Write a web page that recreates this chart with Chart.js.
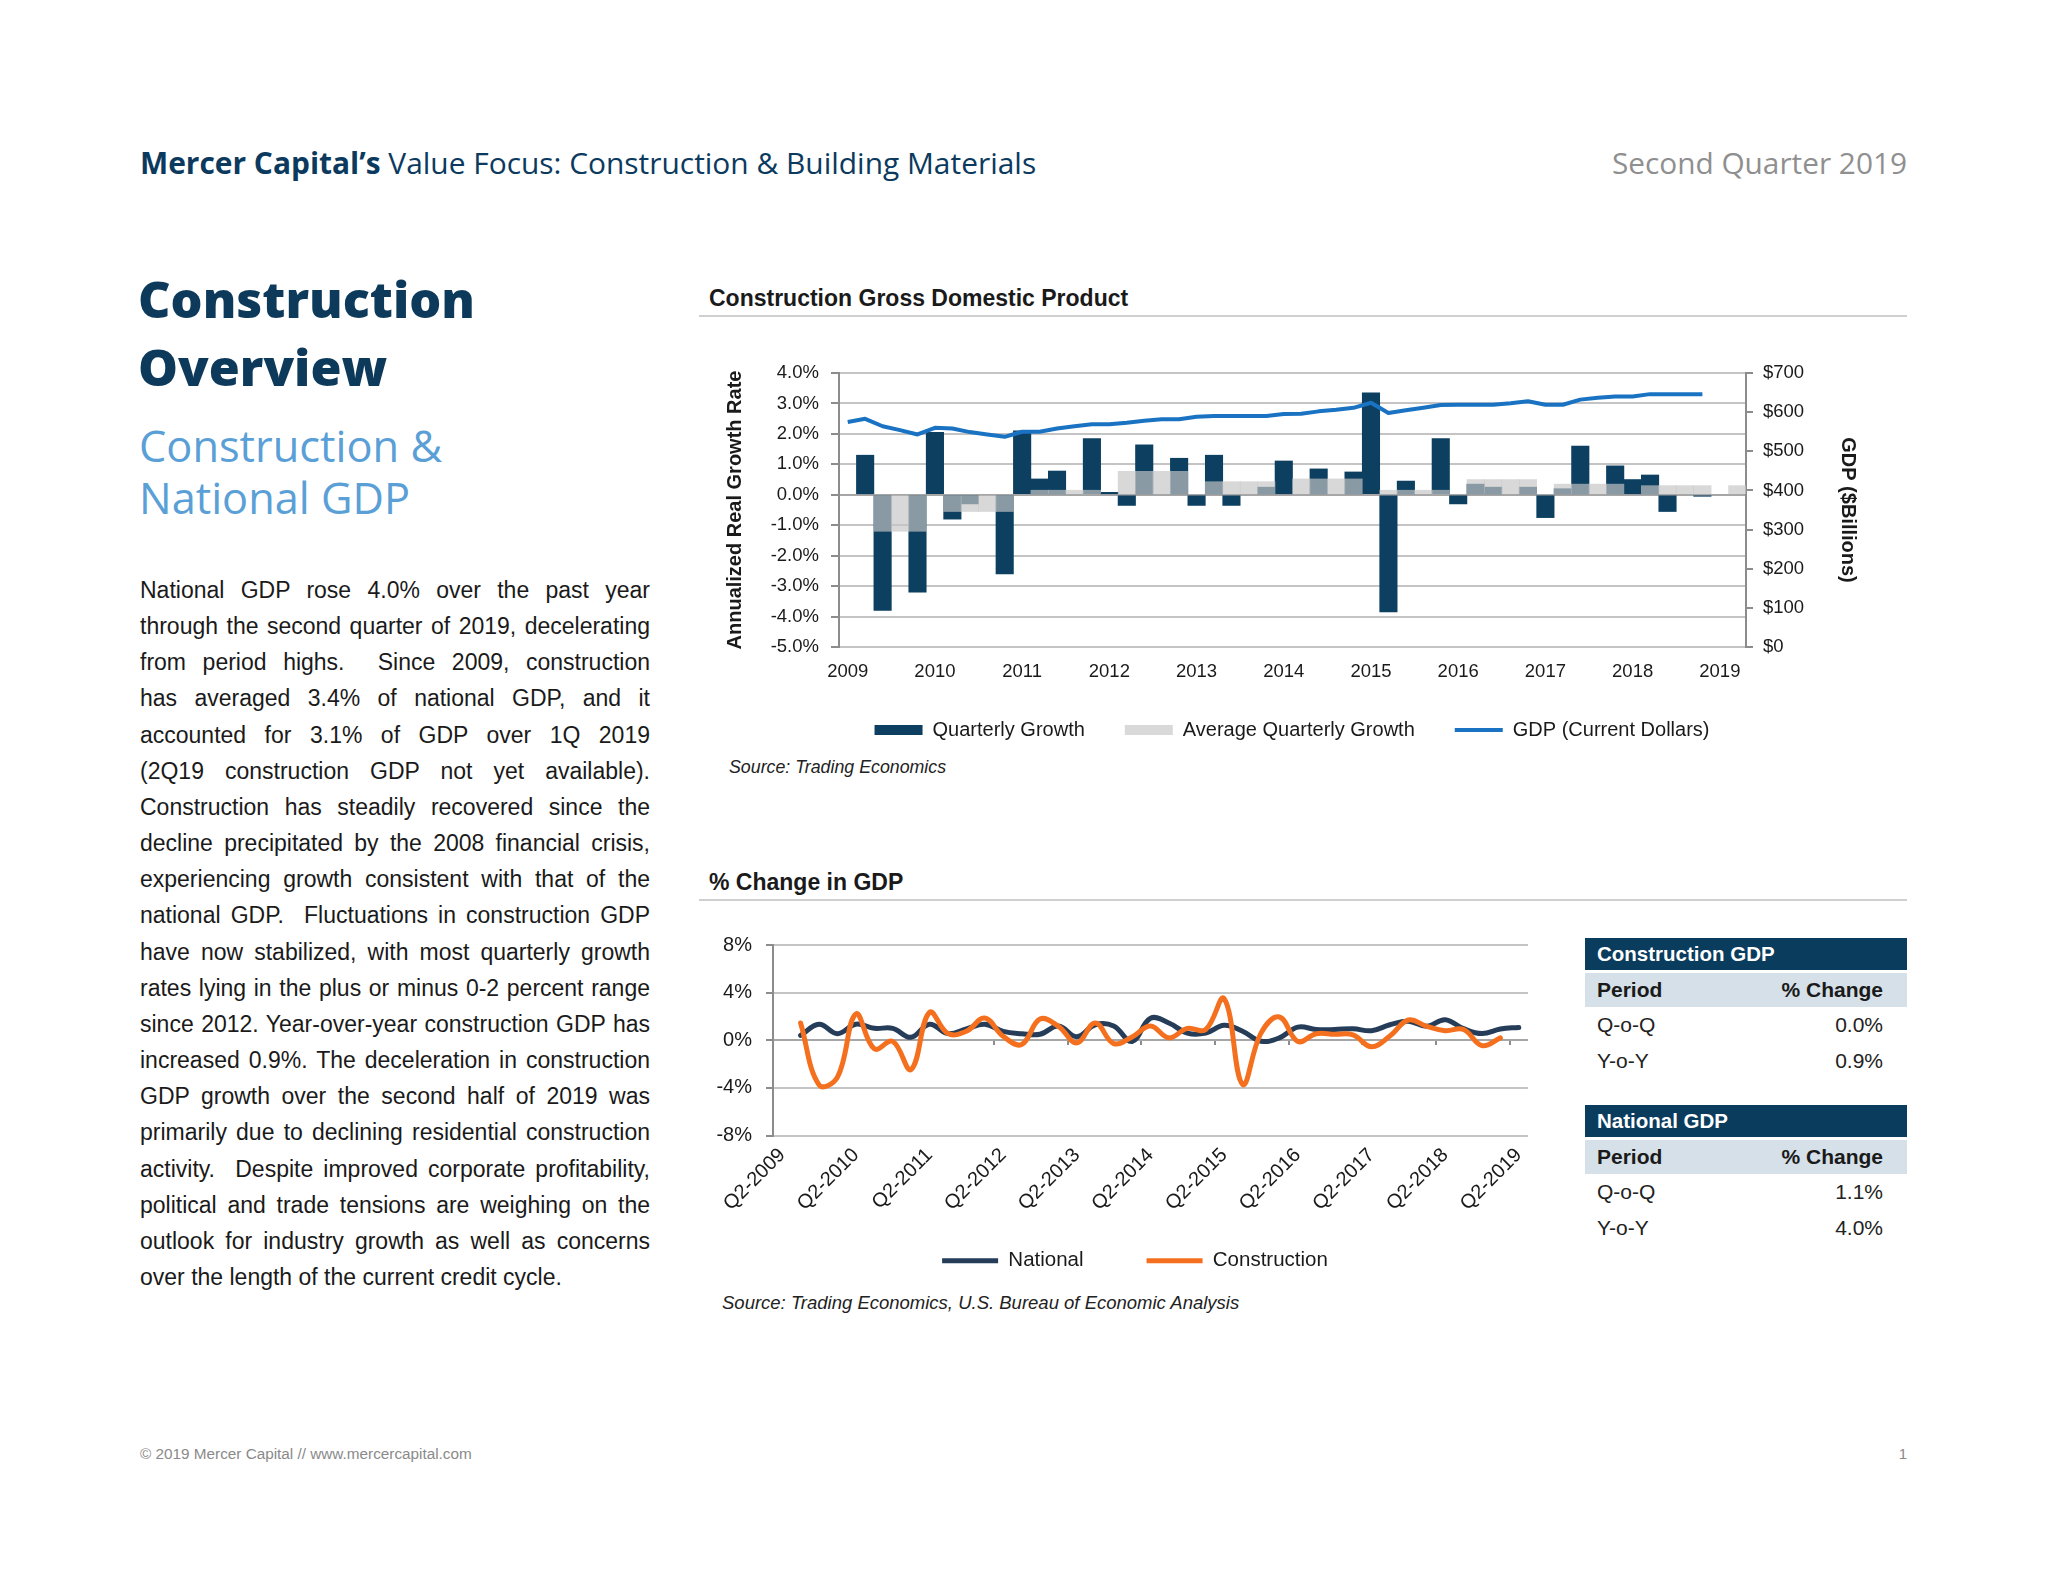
<!DOCTYPE html>
<html>
<head>
<meta charset="utf-8">
<title>Construction Overview</title>
<script src="https://cdn.jsdelivr.net/npm/chart.js@4.4.1/dist/chart.umd.min.js"></script>
<style>
  html, body { margin: 0; padding: 0; background: #fff; }
  body { width: 2048px; height: 1582px; position: relative; overflow: hidden;
         font-family: 'Liberation Sans', Arial, sans-serif; color: #1a1a1a; }
  .abs { position: absolute; white-space: nowrap; }
  #header { left: 140px; top: 147px; line-height: 32px; font-family: 'Open Sans'; font-size: 24px; color: #0b3a5e; }
  #header b { font-weight: 700; }
  #quarter { right: 141px; top: 147px; line-height: 32px; font-family: 'Open Sans'; font-size: 24px; color: #8f8f8f; }
  #heading { left: 138px; top: 265px; font-family: 'Open Sans'; font-weight: 800; font-size: 54px; line-height: 68px; color: #0d3a5a; }
  #subheading { left: 139px; top: 420px; font-family: 'Open Sans'; font-size: 43px; line-height: 52px; color: #5a9fd6; }
  #body { position: absolute; left: 140px; top: 572px; width: 510px; font-size: 23px; line-height: 36.15px; color: #1a1a1a; }
  #body div { text-align: justify; text-align-last: justify; white-space: nowrap; }
  #body div.last { text-align-last: left; }
  .ctitle { font-weight: bold; font-size: 23px; line-height: 30px; color: #1a1a1a; }
  .rule { position: absolute; height: 2px; background: #cfcfcf; }
  .source { font-style: italic; line-height: 24px; color: #222; }
  .tbl { position: absolute; width: 322px; font-size: 21px; }
  .tbl .th { background: #0a3c5e; color: #fff; font-weight: bold; font-size: 20.5px; height: 32px; line-height: 32px; padding-left: 12px; }
  .tbl .sub { background: #d5e0e8; font-weight: bold; height: 34px; line-height: 34px; margin-top: 3px;
              display: flex; justify-content: space-between; padding: 0 24px 0 12px; color: #1a1a1a; }
  .tbl .row { height: 36px; line-height: 36px; display: flex; justify-content: space-between; padding: 0 24px 0 12px; color: #222; }
  #footer { left: 140px; top: 1444px; font-size: 15.3px; line-height: 20px; color: #8a8a8a; }
  #page { right: 141px; top: 1444px; font-size: 15px; line-height: 20px; color: #8a8a8a; }
  canvas { position: absolute; }
</style>
</head>
<body>

<div id="header" class="abs"><b>Mercer Capital’s</b> Value Focus: Construction &amp; Building Materials</div>
<div id="quarter" class="abs">Second Quarter 2019</div>

<div id="heading" class="abs"><span id="headFirst">Construction</span><br>Overview</div>
<div id="subheading" class="abs"><span id="subFirst">Construction &amp;</span><br>National GDP</div>

<div id="body">
  <div>National GDP rose 4.0% over the past year</div>
  <div>through the second quarter of 2019, decelerating</div>
  <div>from period highs.&nbsp; Since 2009, construction</div>
  <div>has averaged 3.4% of national GDP, and it</div>
  <div>accounted for 3.1% of GDP over 1Q 2019</div>
  <div>(2Q19 construction GDP not yet available).</div>
  <div>Construction has steadily recovered since the</div>
  <div>decline precipitated by the 2008 financial crisis,</div>
  <div>experiencing growth consistent with that of the</div>
  <div>national GDP.&nbsp; Fluctuations in construction GDP</div>
  <div>have now stabilized, with most quarterly growth</div>
  <div>rates lying in the plus or minus 0-2 percent range</div>
  <div>since 2012. Year-over-year construction GDP has</div>
  <div>increased 0.9%. The deceleration in construction</div>
  <div>GDP growth over the second half of 2019 was</div>
  <div>primarily due to declining residential construction</div>
  <div>activity.&nbsp; Despite improved corporate profitability,</div>
  <div>political and trade tensions are weighing on the</div>
  <div>outlook for industry growth as well as concerns</div>
  <div class="last">over the length of the current credit cycle.</div>
</div>

<div class="abs ctitle" style="left:709px; top:283px;">Construction Gross Domestic Product</div>
<div class="rule" style="left:699px; top:315px; width:1208px;"></div>
<canvas id="gdpChart" width="1216" height="410" style="left:684px; top:340px;"></canvas>
<div class="abs source" style="left:729px; top:755px; font-size:17.8px;">Source: Trading Economics</div>

<div class="abs ctitle" style="left:709px; top:867px;">% Change in GDP</div>
<div class="rule" style="left:699px; top:899px; width:1208px;"></div>
<canvas id="changeChart" width="870" height="381" style="left:700px; top:900px;"></canvas>
<div class="abs source" style="left:722px; top:1291px; font-size:18.5px;">Source: Trading Economics, U.S. Bureau of Economic Analysis</div>

<div class="tbl" style="left:1585px; top:938px;">
  <div class="th">Construction GDP</div>
  <div class="sub"><span>Period</span><span>% Change</span></div>
  <div class="row"><span>Q-o-Q</span><span>0.0%</span></div>
  <div class="row"><span>Y-o-Y</span><span>0.9%</span></div>
</div>

<div class="tbl" style="left:1585px; top:1105px;">
  <div class="th">National GDP</div>
  <div class="sub"><span>Period</span><span>% Change</span></div>
  <div class="row"><span>Q-o-Q</span><span>1.1%</span></div>
  <div class="row"><span>Y-o-Y</span><span>4.0%</span></div>
</div>

<div id="footer" class="abs">© 2019 Mercer Capital // www.mercercapital.com</div>
<div id="page" class="abs">1</div>

<script>
// ---- Construction GDP chart data (one slot per bar position) ----
const slotLabels = [
  '2009', '', '', '', '', '2010', '', '', '', '',
  '2011', '', '', '', '', '2012', '', '', '', '',
  '2013', '', '', '', '', '2014', '', '', '', '',
  '2015', '', '', '', '', '2016', '', '', '', '',
  '2017', '', '', '', '', '2018', '', '', '', '',
  '2019', ''
];

const quarterlyGrowth = [
  null, 1.3, -3.8, null, -3.2, 2.05, -0.8, -0.3, null, -2.6,
  2.1, 0.52, 0.78, null, 1.85, 0.08, -0.35, 1.64, null, 1.2,
  -0.35, 1.3, -0.35, null, 0.25, 1.11, null, 0.85, null, 0.75,
  3.35, -3.85, 0.45, null, 1.85, -0.3, 0.35, 0.25, null, 0.25,
  -0.75, 0.2, 1.6, null, 0.95, 0.5, 0.65, -0.55, null, -0.05,
  null, null
];

const averageGrowth = [
  null, null, -1.2, -1.2, -1.2, null, -0.55, -0.55, -0.55, -0.55,
  null, 0.15, 0.15, 0.15, 0.15, null, 0.77, 0.77, 0.77, 0.77,
  null, 0.43, 0.43, 0.43, 0.43, null, 0.52, 0.52, 0.52, 0.52,
  null, 0.15, 0.15, 0.15, 0.15, null, 0.5, 0.5, 0.5, 0.5,
  null, 0.35, 0.35, 0.35, 0.35, null, 0.3, 0.3, 0.3, 0.3,
  null, 0.3
];

// GDP in current dollars, $ billions
const gdpDollars = [
  575, 583, 564, 554, 543, 560, 558, 549, 543, 537,
  550, 550, 558, 564, 569, 569, 573, 578, 582, 582,
  588, 590, 590, 590, 590, 595, 596, 602, 606, 611,
  624, 598, 605, 611, 618, 619, 619, 619, 623, 628,
  619, 619, 632, 637, 640, 640, 646, 646, 646, 646,
  null, null
];

// ---- % change in GDP chart data ----
const quarterLabels = [
  'Q2-2009', '', '', '', 'Q2-2010', '', '', '', 'Q2-2011', '', '', '',
  'Q2-2012', '', '', '', 'Q2-2013', '', '', '', 'Q2-2014', '', '', '',
  'Q2-2015', '', '', '', 'Q2-2016', '', '', '', 'Q2-2017', '', '', '',
  'Q2-2018', '', '', '', 'Q2-2019'
];

const nationalChange = [
  null, 0.4, 1.35, 0.55, 1.35, 1.0, 1.0, 0.25, 1.35, 0.56,
  0.95, 1.35, 0.75, 0.55, 0.5, 1.2, 0.3, 1.3, 1.2, -0.1,
  1.85, 1.45, 0.6, 0.6, 1.25, 0.75, -0.08, 0.2, 1.1, 0.9,
  0.9, 0.97, 0.8, 1.3, 1.6, 1.17, 1.72, 0.97, 0.56, 0.95,
  1.08
];

const constructionChange = [
  null, 1.45, -3.75, -3.1, 2.2, -0.72, -0.1, -2.45, 2.34, 0.56,
  0.75, 1.87, 0.33, -0.36, 1.78, 1.17, -0.22, 1.45, -0.28, 0.28,
  1.2, 0.2, 1.0, 0.9, 3.5, -3.7, 0.6, 1.95, -0.1, 0.55,
  0.5, 0.45, -0.55, 0.35, 1.7, 1.17, 0.8, 0.9, -0.45, 0.2,
  null
];

const darkBlue = '#0c3f60';
const gridGray = '#c4c4c4';
const axisGray = '#8c8c8c';

Chart.defaults.font.family = "'Liberation Sans', Arial, sans-serif";
Chart.defaults.color = '#1a1a1a';
Chart.defaults.animation = false;

// fit a text block so its first line has the width seen in the picture
function fitWidth(el, measureEl, target) {
  const w = measureEl.getBoundingClientRect().width;
  const fs = parseFloat(getComputedStyle(el).fontSize);
  el.style.fontSize = (fs * target / w) + 'px';
}
function fitAll() {
  fitWidth(document.getElementById('header'), document.getElementById('header'), 896);
  fitWidth(document.getElementById('quarter'), document.getElementById('quarter'), 295);
  fitWidth(document.getElementById('heading'), document.getElementById('headFirst'), 337);
  fitWidth(document.getElementById('subheading'), document.getElementById('subFirst'), 303);
}
fitAll();

// legend entries: rectangles for bars, a line for line series
function legendItems(chart) {
  return chart.data.datasets.map((ds, i) => {
    const isLine = ds.type === 'line' || chart.config.type === 'line';
    return {
      text: ds.label,
      datasetIndex: i,
      fillStyle: ds.legendColor,
      strokeStyle: ds.legendColor,
      lineWidth: isLine ? ds.legendLine : 0,
      pointStyle: isLine ? 'line' : 'rect',
      fontColor: '#1a1a1a',
      hidden: false
    };
  });
}

// keep the x labels from being cut to the axis box
function fixAxisHeight(h) {
  return (scale) => {
    scale.height = h;
    scale._computeLabelArea = () => undefined;
  };
}

new Chart(document.getElementById('gdpChart'), {
  type: 'bar',
  data: {
    labels: slotLabels,
    datasets: [
      {
        label: 'Quarterly Growth',
        data: quarterlyGrowth,
        backgroundColor: darkBlue,
        legendColor: darkBlue,
        yAxisID: 'y',
        grouped: false,
        barPercentage: 1,
        categoryPercentage: 1,
        order: 3
      },
      {
        label: 'Average Quarterly Growth',
        data: averageGrowth,
        backgroundColor: 'rgba(198,198,198,0.68)',
        legendColor: '#d9d9d9',
        yAxisID: 'y',
        grouped: false,
        barPercentage: 1,
        categoryPercentage: 1,
        order: 2
      },
      {
        type: 'line',
        label: 'GDP (Current Dollars)',
        data: gdpDollars,
        borderColor: '#1a73c2',
        legendColor: '#1a73c2',
        legendLine: 4,
        borderWidth: 4,
        borderJoinStyle: 'round',
        pointRadius: 0,
        tension: 0,
        yAxisID: 'y2',
        order: 1
      }
    ]
  },
  options: {
    responsive: false,
    devicePixelRatio: 1,
    layout: { padding: { top: 33, left: 0, right: 0, bottom: 0 } },
    plugins: {
      legend: {
        display: true,
        position: 'bottom',
        labels: {
          usePointStyle: true,
          pointStyleWidth: 48,
          boxHeight: 10,
          padding: 40,
          font: { size: 20 },
          color: '#1a1a1a',
          generateLabels: legendItems
        }
      },
      tooltip: { enabled: false }
    },
    scales: {
      x: {
        grid: { display: false, drawTicks: false },
        border: { display: false },
        ticks: { autoSkip: false, maxRotation: 0, padding: 14, font: { size: 18.5 }, color: '#1a1a1a' },
        afterFit: fixAxisHeight(33)
      },
      y: {
        position: 'left',
        min: -5,
        max: 4,
        ticks: {
          stepSize: 1,
          autoSkip: false,
          padding: 12,
          font: { size: 18.5 },
          color: '#1a1a1a',
          callback: (v) => v.toFixed(1) + '%'
        },
        grid: {
          color: (c) => (c.tick && c.tick.value === 0 ? '#a6a6a6' : gridGray),
          lineWidth: 2,
          tickLength: 8,
          tickColor: axisGray
        },
        border: { color: axisGray, width: 2 },
        title: {
          display: true,
          text: 'Annualized Real Growth Rate',
          font: { size: 20, weight: 'bold' },
          color: '#1a1a1a',
          padding: { top: 39, bottom: 0 }
        },
        afterFit: (scale) => { scale.width = 155; }
      },
      y2: {
        position: 'right',
        min: 0,
        max: 700,
        ticks: {
          stepSize: 100,
          autoSkip: false,
          padding: 10,
          font: { size: 18.5 },
          color: '#1a1a1a',
          callback: (v) => '$' + v
        },
        grid: { drawOnChartArea: false, tickLength: 7, color: axisGray, lineWidth: 2 },
        border: { color: axisGray, width: 2 },
        title: {
          display: true,
          text: 'GDP ($Billions)',
          font: { size: 20, weight: 'bold' },
          color: '#1a1a1a',
          padding: { top: 40, bottom: 0 }
        },
        afterFit: (scale) => { scale.width = 154; }
      }
    }
  }
});

new Chart(document.getElementById('changeChart'), {
  type: 'line',
  data: {
    labels: quarterLabels,
    datasets: [
      {
        label: 'National',
        data: nationalChange,
        borderColor: '#253d58',
        legendColor: '#253d58',
        legendLine: 5,
        borderWidth: 5,
        borderCapStyle: 'round',
        borderJoinStyle: 'round',
        pointRadius: 0,
        tension: 0.4,
        order: 2
      },
      {
        label: 'Construction',
        data: constructionChange,
        borderColor: '#f4701f',
        legendColor: '#f4701f',
        legendLine: 5,
        borderWidth: 5,
        borderCapStyle: 'round',
        borderJoinStyle: 'round',
        pointRadius: 0,
        tension: 0.4,
        order: 1
      }
    ]
  },
  options: {
    responsive: false,
    devicePixelRatio: 1,
    layout: { padding: { top: 45, left: 0, right: 0, bottom: 0 } },
    plugins: {
      legend: {
        display: true,
        position: 'bottom',
        labels: {
          usePointStyle: true,
          pointStyleWidth: 56,
          boxHeight: 6,
          padding: 63,
          font: { size: 20.5 },
          color: '#1a1a1a',
          generateLabels: legendItems
        }
      },
      tooltip: { enabled: false }
    },
    scales: {
      x: {
        offset: true,
        grid: { display: false, drawTicks: false },
        border: { display: false },
        ticks: { autoSkip: false, minRotation: 45, maxRotation: 45, padding: 8, font: { size: 20 }, color: '#1a1a1a' },
        afterFit: fixAxisHeight(52)
      },
      // tick marks on the zero line, one every four quarters
      xZero: {
        type: 'category',
        position: { y: 0 },
        offset: true,
        border: { display: false },
        ticks: { display: false, autoSkip: false },
        grid: {
          display: true,
          drawOnChartArea: false,
          drawTicks: true,
          tickLength: 5,
          offset: true,
          lineWidth: 2,
          color: (c) => (c.index > 0 && c.index % 4 === 0 ? axisGray : 'rgba(0,0,0,0)')
        }
      },
      y: {
        min: -8,
        max: 8,
        ticks: {
          stepSize: 4,
          autoSkip: false,
          padding: 14,
          font: { size: 20 },
          color: '#1a1a1a',
          callback: (v) => v + '%'
        },
        grid: {
          color: (c) => (c.tick && c.tick.value === 0 ? '#a6a6a6' : gridGray),
          lineWidth: 2,
          tickLength: 7,
          tickColor: axisGray
        },
        border: { color: axisGray, width: 2 },
        afterFit: (scale) => { scale.width = 73; }
      },
      // empty right-hand margin so the legend centres like the original
      yRight: {
        position: 'right',
        display: true,
        ticks: { display: false },
        grid: { display: false },
        border: { display: false },
        afterFit: (scale) => { scale.width = 42; }
      }
    }
  }
});

if (document.fonts && document.fonts.ready) {
  document.fonts.ready.then(fitAll);
}
</script>
</body>
</html>
